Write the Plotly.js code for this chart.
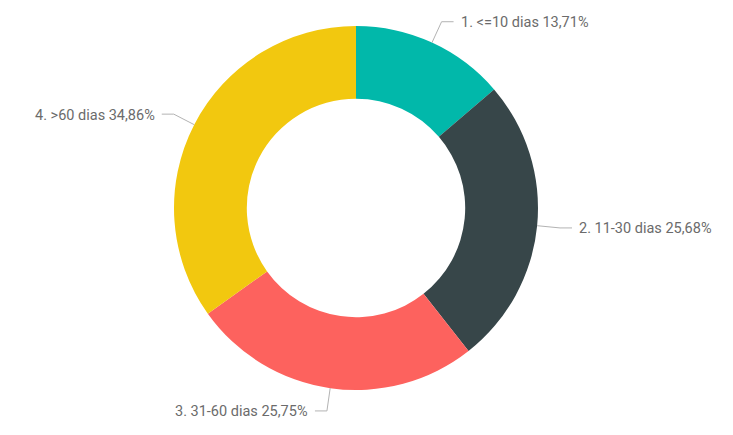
<!DOCTYPE html>
<html><head><meta charset="utf-8">
<script src="https://cdn.plot.ly/plotly-3.0.1.min.js"></script>
<style>html,body{margin:0;padding:0;background:#fff}#chart{width:733px;height:435px}</style>
</head><body><div id="chart"></div>
<script>
const categories = ["1. <=10 dias", "2. 11-30 dias", "3. 31-60 dias", "4. >60 dias"];
const values = [13.71, 25.68, 25.75, 34.86];
const colors = ["#01B8AA", "#374649", "#FD625E", "#F2C80F"];

const W = 733, H = 435;
const cx = 356, cy = 208, R = 182;
const total = values.reduce((a, b) => a + b, 0);

const trace = {
  type: 'pie',
  labels: categories,
  values: values,
  hole: 0.6,
  sort: false,
  direction: 'clockwise',
  rotation: 0,
  textinfo: 'none',
  hoverinfo: 'label+percent',
  marker: {colors: colors, line: {width: 0}},
  domain: {x: [(cx - R) / W, (cx + R) / W], y: [(H - cy - R) / H, (H - cy + R) / H]},
  showlegend: false
};

const esc = s => s.replace(/&/g, '&amp;').replace(/</g, '&lt;').replace(/>/g, '&gt;');
const px = x => x / W, py = y => 1 - y / H;

const shapes = [], annotations = [];
let cum = 0;
values.forEach((v, i) => {
  const mid = (cum + v / 2) / total * 2 * Math.PI;
  cum += v;
  const s = Math.sin(mid), c = Math.cos(mid);
  const x0 = cx + R * s, y0 = cy - R * c;
  const r1 = 205;
  const x1 = cx + r1 * s, y1 = cy - r1 * c;
  const dir = s >= 0 ? 1 : -1;
  const x2 = x1 + dir * 12;
  shapes.push({
    type: 'path', xref: 'paper', yref: 'paper',
    path: `M ${px(x0)},${py(y0)} L ${px(x1)},${py(y1)} L ${px(x2)},${py(y1)}`,
    line: {color: '#B3B3B3', width: 1}
  });
  const pct = (v / total * 100).toFixed(2).replace('.', ',') + '%';
  annotations.push({
    xref: 'paper', yref: 'paper', x: px(x2 + dir * 5), y: py(y1 + 1),
    xanchor: dir > 0 ? 'left' : 'right', yanchor: 'middle',
    text: esc(categories[i]) + ' ' + pct, showarrow: false,
    font: {family: 'Roboto, sans-serif', size: 14.5, color: '#6b6b6b'}
  });
});

const layout = {
  width: W, height: H,
  margin: {l: 0, r: 0, t: 0, b: 0},
  paper_bgcolor: '#ffffff',
  shapes: shapes,
  annotations: annotations,
  separators: ',.'
};
Plotly.newPlot('chart', [trace], layout, {displayModeBar: false, staticPlot: true});
</script></body></html>
